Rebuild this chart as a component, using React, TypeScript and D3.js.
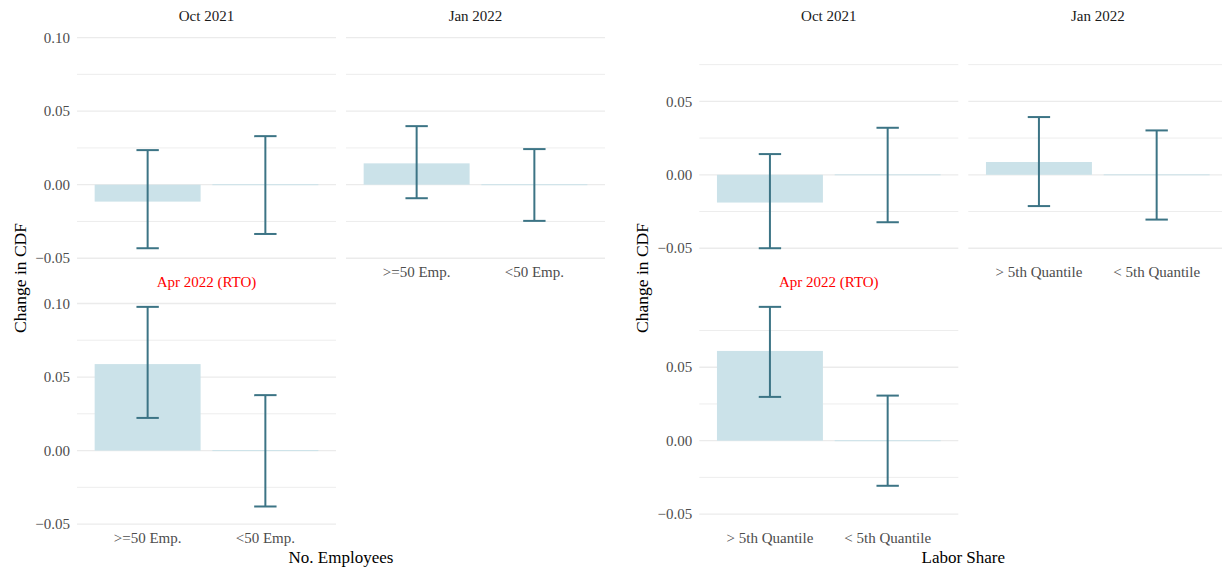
import React from "react";
import * as d3 from "d3";

const periods = ["Oct 2021", "Jan 2022", "Apr 2022 (RTO)"];
const periodColors = ["#1a1a1a", "#1a1a1a", "#ff0000"];

const empGroups = [">=50 Emp.", "<50 Emp."];
const empEstimate = [[-0.0115, 0], [0.0145, 0], [0.0588, 0]];
const empLow = [[-0.0432, -0.0335], [-0.0092, -0.0246], [0.0222, -0.038]];
const empHigh = [[0.0235, 0.033], [0.0398, 0.0242], [0.0977, 0.0377]];

const laborGroups = ["> 5th Quantile", "< 5th Quantile"];
const laborEstimate = [[-0.0189, 0], [0.0087, 0], [0.0611, 0]];
const laborLow = [[-0.05, -0.0323], [-0.0213, -0.0305], [0.0298, -0.0307]];
const laborHigh = [[0.0141, 0.032], [0.0393, 0.0302], [0.0911, 0.0307]];

const majorTicks = [-0.05, 0, 0.05, 0.1];
const minorTicks = [-0.075, -0.025, 0.025, 0.075, 0.125];

const FONT = "'Liberation Serif', 'DejaVu Serif', serif";
const BAR_FILL = "#cbe2e9";
const ERR_COLOR = "#3c7485";
const GRID = "#ebebeb";

type FacetProps = {
  left: number;
  groups: string[];
  estimate: number[][];
  low: number[][];
  high: number[][];
  xTitle: string;
  yTitleX: number;
};

const PANEL_W = 259;
const COL_GAP = 10;
const ROW_TOPS = [30.6, 296.5];
const PANEL_H = 228;

function FacetPlot({ left, groups, estimate, low, high, xTitle, yTitleX }: FacetProps) {
  const all = [...low.flat(), ...high.flat(), ...estimate.flat()];
  const [mn, mx] = d3.extent(all) as [number, number];
  const pad = (mx - mn) * 0.05;
  const domain: [number, number] = [mn - pad, mx + pad];
  const fmt = d3.format(".2f");

  const layout = periods.map((_, i) => ({ row: Math.floor(i / 2), col: i % 2 }));
  const hasBelow = (i: number) => layout.some((l) => l.col === layout[i].col && l.row === layout[i].row + 1);

  return (
    <g>
      {periods.map((p, i) => {
        const { row, col } = layout[i];
        const x0 = left + col * (PANEL_W + COL_GAP);
        const y0 = ROW_TOPS[row];
        const y = d3.scaleLinear().domain(domain).range([y0 + PANEL_H, y0]);
        const x = d3.scaleLinear().domain([0.4, groups.length + 0.6]).range([x0, x0 + PANEL_W]);
        const unit = x(1) - x(0);
        const majors = majorTicks.filter((t) => t >= domain[0] && t <= domain[1]);
        const minors = minorTicks.filter((t) => t >= domain[0] && t <= domain[1]);
        return (
          <g key={p}>
            {minors.map((t) => (
              <line key={"mi" + t} x1={x0} x2={x0 + PANEL_W} y1={y(t)} y2={y(t)} stroke={GRID} strokeWidth={0.9} />
            ))}
            {majors.map((t) => (
              <line key={"ma" + t} x1={x0} x2={x0 + PANEL_W} y1={y(t)} y2={y(t)} stroke={GRID} strokeWidth={1.3} />
            ))}
            {col === 0 &&
              majors.map((t) => (
                <text
                  key={"yl" + t}
                  x={x0 - 7}
                  y={y(t)}
                  dy="0.35em"
                  textAnchor="end"
                  fontSize={15}
                  fill="#4d4d4d"
                  fontFamily={FONT}
                >
                  {fmt(t).replace("-", "\u2212")}
                </text>
              ))}
            <text
              x={x0 + PANEL_W / 2}
              y={y0 - 14.5}
              dy="0.35em"
              textAnchor="middle"
              fontSize={15}
              fill={periodColors[i]}
              fontFamily={FONT}
            >
              {p}
            </text>
            {groups.map((g, j) => {
              const cx = x(j + 1);
              const v = estimate[i][j];
              const yTop = Math.min(y(v), y(0));
              const h = Math.max(Math.abs(y(v) - y(0)), 1);
              const half = unit * 0.45;
              const cap = unit * 0.095;
              return (
                <g key={g}>
                  <rect x={cx - half} y={v === 0 ? y(0) - 0.5 : yTop} width={half * 2} height={h} fill={BAR_FILL} />
                  <line x1={cx} x2={cx} y1={y(high[i][j])} y2={y(low[i][j])} stroke={ERR_COLOR} strokeWidth={2} />
                  <line x1={cx - cap} x2={cx + cap} y1={y(high[i][j])} y2={y(high[i][j])} stroke={ERR_COLOR} strokeWidth={2} />
                  <line x1={cx - cap} x2={cx + cap} y1={y(low[i][j])} y2={y(low[i][j])} stroke={ERR_COLOR} strokeWidth={2} />
                  {!hasBelow(i) && (
                    <text
                      x={cx}
                      y={y0 + PANEL_H + 13.5}
                      dy="0.35em"
                      textAnchor="middle"
                      fontSize={15}
                      fill="#4d4d4d"
                      fontFamily={FONT}
                    >
                      {g}
                    </text>
                  )}
                </g>
              );
            })}
          </g>
        );
      })}
      <text
        x={left + PANEL_W + COL_GAP / 2}
        y={557}
        dy="0.35em"
        textAnchor="middle"
        fontSize={17}
        fill="#000"
        fontFamily={FONT}
      >
        {xTitle}
      </text>
      <text
        transform={`translate(${yTitleX},278) rotate(-90)`}
        dy="0.35em"
        textAnchor="middle"
        fontSize={17.5}
        fill="#000"
        fontFamily={FONT}
      >
        Change in CDF
      </text>
    </g>
  );
}

export default function App() {
  return (
    <svg
      width={1222}
      height={567}
      style={{ position: "absolute", left: 0, top: 0, background: "#fff" }}
    >
      <rect width={1222} height={567} fill="#fff" />
      <FacetPlot
        left={77}
        groups={empGroups}
        estimate={empEstimate}
        low={empLow}
        high={empHigh}
        xTitle="No. Employees"
        yTitleX={20}
      />
      <FacetPlot
        left={699.3}
        groups={laborGroups}
        estimate={laborEstimate}
        low={laborLow}
        high={laborHigh}
        xTitle="Labor Share"
        yTitleX={641.5}
      />
    </svg>
  );
}
